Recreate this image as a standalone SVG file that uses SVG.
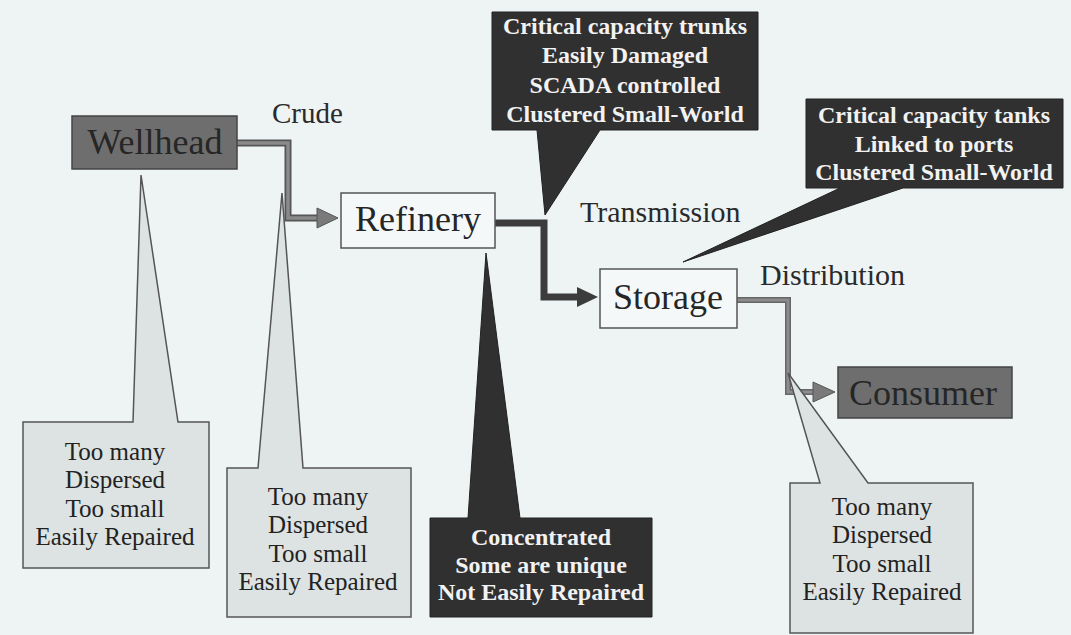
<svg xmlns="http://www.w3.org/2000/svg" width="1071" height="635" viewBox="0 0 1071 635">
<style>
  .bg{fill:#eef4f4}
  .serif{font-family:'Liberation Serif','Tinos','Times New Roman','DejaVu Serif',serif}
  .lbl{fill:#2a2a2a}
  .node-dark{fill:#6e6e6e;stroke:#444;stroke-width:1.5}
  .node-light{fill:#f5f8f8;stroke:#555;stroke-width:1.5}
  .node-text{font-size:36px;fill:#262626;text-anchor:middle}
  .co-dark{fill:#303030;stroke:#222;stroke-width:1}
  .co-dark-t{font-weight:bold;font-size:24px;fill:#f2f2f2;text-anchor:middle}
  .co-light{fill:#dde3e3;stroke:#555;stroke-width:1.5}
  .co-light-t{font-size:25px;fill:#222;text-anchor:middle}
  .pipe{fill:none;stroke-linejoin:miter}
</style>
<rect class="bg" x="0" y="0" width="1071" height="635"/>

<g id="connectors">
  <path class="pipe" d="M237,143 H288 V218 H318" stroke="#555" stroke-width="7"/>
  <path class="pipe" d="M237,143 H288 V218 H318" stroke="#8a8a8a" stroke-width="3.5"/>
  <polygon points="317,208 338,218 317,228" fill="#7a7a7a" stroke="#555" stroke-width="1"/>
  <path class="pipe" d="M495,223 H544 V297 H578" stroke="#3c3c3c" stroke-width="7"/>
  <polygon points="577,287 598,297 577,307" fill="#3c3c3c"/>
  <path class="pipe" d="M737,300 H788 V392 H814" stroke="#666" stroke-width="6"/>
  <path class="pipe" d="M737,300 H788 V392 H814" stroke="#8c8c8c" stroke-width="3"/>
  <polygon points="813,382 835,392 813,402" fill="#7a7a7a" stroke="#555" stroke-width="1"/>
  <text class="serif lbl" font-family="Liberation Serif, serif" x="272" y="123" font-size="29">Crude</text>
  <text class="serif lbl" x="580" y="222" font-size="30">Transmission</text>
  <text class="serif lbl" x="760" y="285" font-size="30">Distribution</text>
</g>

<g id="wellhead">
  <rect class="node-dark" x="72" y="116" width="165" height="53"/>
  <text class="serif node-text" x="155" y="154">Wellhead</text>
</g>
<g id="refinery">
  <rect class="node-light" x="341" y="193" width="154" height="55"/>
  <text class="serif node-text" x="418" y="231" font-size="37">Refinery</text>
</g>
<g id="storage">
  <rect class="node-light" x="600" y="269" width="137" height="59"/>
  <text class="serif node-text" x="668" y="309">Storage</text>
</g>
<g id="consumer">
  <rect class="node-dark" x="838" y="367" width="174" height="51"/>
  <text class="serif node-text" x="923" y="405">Consumer</text>
</g>

<g id="callout-trunks">
  <path class="co-dark" d="M492,12 H758 V130 H600 L545,215 L537,130 H492 Z"/>
  <text class="serif co-dark-t" x="625" y="34">Critical capacity trunks</text>
  <text class="serif co-dark-t" x="625" y="63">Easily Damaged</text>
  <text class="serif co-dark-t" x="625" y="93">SCADA controlled</text>
  <text class="serif co-dark-t" x="625" y="122">Clustered Small-World</text>
</g>
<g id="callout-tanks">
  <path class="co-dark" d="M806,99 H1063 V188 H903 L683,262 L840,188 H806 Z"/>
  <text class="serif co-dark-t" x="934" y="123">Critical capacity tanks</text>
  <text class="serif co-dark-t" x="934" y="152">Linked to ports</text>
  <text class="serif co-dark-t" x="934" y="180">Clustered Small-World</text>
</g>
<g id="callout-wellhead">
  <path class="co-light" d="M23,422 H133 L141,175 L178,422 H209 V568 H23 Z"/>
  <text class="serif co-light-t" x="115" y="460">Too many</text>
  <text class="serif co-light-t" x="115" y="488">Dispersed</text>
  <text class="serif co-light-t" x="115" y="517">Too small</text>
  <text class="serif co-light-t" x="115" y="545">Easily Repaired</text>
</g>
<g id="callout-crude">
  <path class="co-light" d="M227,468 H258 L282,193 L303,468 H411 V617 H227 Z"/>
  <text class="serif co-light-t" x="318" y="505">Too many</text>
  <text class="serif co-light-t" x="318" y="533">Dispersed</text>
  <text class="serif co-light-t" x="318" y="562">Too small</text>
  <text class="serif co-light-t" x="318" y="590">Easily Repaired</text>
</g>
<g id="callout-refinery">
  <path class="co-dark" d="M430,518 H468 L486,253 L520,518 H652 V617 H430 Z"/>
  <text class="serif co-dark-t" x="541" y="545" font-size="25">Concentrated</text>
  <text class="serif co-dark-t" x="541" y="573" font-size="25">Some are unique</text>
  <text class="serif co-dark-t" x="541" y="600" font-size="25">Not Easily Repaired</text>
</g>
<g id="callout-consumer">
  <path class="co-light" d="M790,483 H820 L788,373 L868,483 H973 V633 H790 Z"/>
  <text class="serif co-light-t" x="882" y="515">Too many</text>
  <text class="serif co-light-t" x="882" y="543">Dispersed</text>
  <text class="serif co-light-t" x="882" y="572">Too small</text>
  <text class="serif co-light-t" x="882" y="600">Easily Repaired</text>
</g>
</svg>
